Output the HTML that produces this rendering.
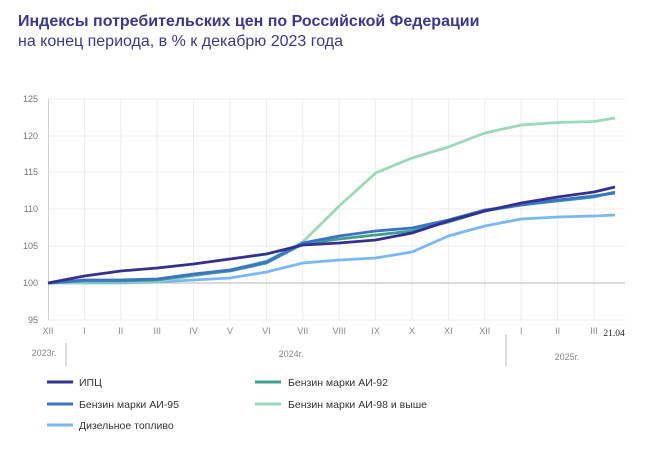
<!DOCTYPE html>
<html><head><meta charset="utf-8"><style>
body{margin:0;background:#fff;width:670px;height:452px;overflow:hidden;font-family:"Liberation Sans",sans-serif}
</style></head><body>
<svg width="670" height="452" xmlns="http://www.w3.org/2000/svg" font-family="Liberation Sans, sans-serif">
<text x="18" y="26" font-size="16" font-weight="bold" fill="#3a3790">Индексы потребительских цен по Российской Федерации</text>
<text x="18" y="46" font-size="16" fill="#3a3790">на конец периода, в % к декабрю 2023 года</text>
<g stroke="#ececec" stroke-width="1">
<line x1="48" y1="99" x2="625" y2="99"/><line x1="48" y1="136" x2="625" y2="136"/><line x1="48" y1="172" x2="625" y2="172"/><line x1="48" y1="209" x2="625" y2="209"/><line x1="48" y1="246" x2="625" y2="246"/><line x1="48" y1="320" x2="625" y2="320"/>
<line x1="84.4" y1="99" x2="84.4" y2="320"/><line x1="120.8" y1="99" x2="120.8" y2="320"/><line x1="157.2" y1="99" x2="157.2" y2="320"/><line x1="193.6" y1="99" x2="193.6" y2="320"/><line x1="230" y1="99" x2="230" y2="320"/><line x1="266.4" y1="99" x2="266.4" y2="320"/><line x1="302.8" y1="99" x2="302.8" y2="320"/><line x1="339.2" y1="99" x2="339.2" y2="320"/><line x1="375.6" y1="99" x2="375.6" y2="320"/><line x1="412" y1="99" x2="412" y2="320"/><line x1="448.4" y1="99" x2="448.4" y2="320"/><line x1="484.8" y1="99" x2="484.8" y2="320"/><line x1="521.2" y1="99" x2="521.2" y2="320"/><line x1="557.6" y1="99" x2="557.6" y2="320"/><line x1="594" y1="99" x2="594" y2="320"/>
</g>
<line x1="48.5" y1="99" x2="48.5" y2="320" stroke="#d0d0d0"/>
<line x1="48" y1="283" x2="625" y2="283" stroke="#c8c8c8" stroke-width="1.3"/>
<g font-size="9" fill="#777" text-anchor="end">
<text x="38" y="102">125</text><text x="38" y="139">120</text><text x="38" y="175">115</text><text x="38" y="212">110</text><text x="38" y="249">105</text><text x="38" y="286">100</text><text x="38" y="323">95</text>
</g>
<g font-size="9" fill="#888" text-anchor="middle">
<text x="48" y="334">XII</text><text x="84.4" y="334">I</text><text x="120.8" y="334">II</text><text x="157.2" y="334">III</text><text x="193.6" y="334">IV</text><text x="230" y="334">V</text><text x="266.4" y="334">VI</text><text x="302.8" y="334">VII</text><text x="339.2" y="334">VIII</text><text x="375.6" y="334">IX</text><text x="412" y="334">X</text><text x="448.4" y="334">XI</text><text x="484.8" y="334">XII</text><text x="521.2" y="334">I</text><text x="557.6" y="334">II</text><text x="594" y="334">III</text>
<text x="44" y="356">2023г.</text><text x="291" y="357">2024г.</text><text x="567" y="360">2025г.</text>
</g>
<text x="614" y="336" font-size="9.5" font-family="Liberation Serif, serif" fill="#222" text-anchor="middle">21.04</text>
<line x1="66" y1="343" x2="66" y2="366" stroke="#bbb"/><line x1="506" y1="334" x2="506" y2="366" stroke="#bbb"/>
<g fill="none" stroke-width="2.8" stroke-linejoin="round">
<polyline stroke="#7ab8f5" points="48,283 84.4,283 120.8,283 157.2,282 193.6,280 230,278 266.4,272 302.8,263 339.2,260 375.6,258 412,252 448.4,236 484.8,226 521.2,219 557.6,217 594,216 615,215"/>
<polyline stroke="#9bd9b8" points="48,283 84.4,282 120.8,282 157.2,281 193.6,276 230,270 266.4,261 302.8,242 339.2,206 375.6,173 412,158 448.4,147 484.8,133 521.2,125 557.6,122.5 594,121.5 615,118"/>
<polyline stroke="#3f9e8f" points="48,283 84.4,281 120.8,281 157.2,280 193.6,275 230,271 266.4,263 302.8,244 339.2,239 375.6,235 412,231 448.4,222 484.8,211 521.2,205 557.6,201 594,197 615,192"/>
<polyline stroke="#3a73c8" points="48,283 84.4,280 120.8,280 157.2,279 193.6,274 230,270 266.4,262 302.8,243 339.2,236 375.6,231 412,228 448.4,220 484.8,210 521.2,205 557.6,200 594,196 615,193"/>
<polyline stroke="#33318f" points="48,283 84.4,276 120.8,271 157.2,268 193.6,264 230,259 266.4,254 302.8,245 339.2,243 375.6,240 412,233 448.4,221 484.8,211 521.2,203 557.6,197 594,192 615,187"/>
</g>
<g stroke-width="3">
<line x1="47" y1="382" x2="73" y2="382" stroke="#33318f"/>
<line x1="47" y1="404" x2="73" y2="404" stroke="#3a73c8"/>
<line x1="47" y1="425" x2="73" y2="425" stroke="#7ab8f5"/>
<line x1="255" y1="382" x2="281" y2="382" stroke="#3f9e8f"/>
<line x1="255" y1="404" x2="281" y2="404" stroke="#9bd9b8"/>
</g>
<g font-size="10.5" fill="#333">
<text x="79" y="386">ИПЦ</text>
<text x="79" y="408">Бензин марки АИ-95</text>
<text x="79" y="429">Дизельное топливо</text>
<text x="288" y="386">Бензин марки АИ-92</text>
<text x="288" y="408">Бензин марки АИ-98 и выше</text>
</g>
</svg>
</body></html>
